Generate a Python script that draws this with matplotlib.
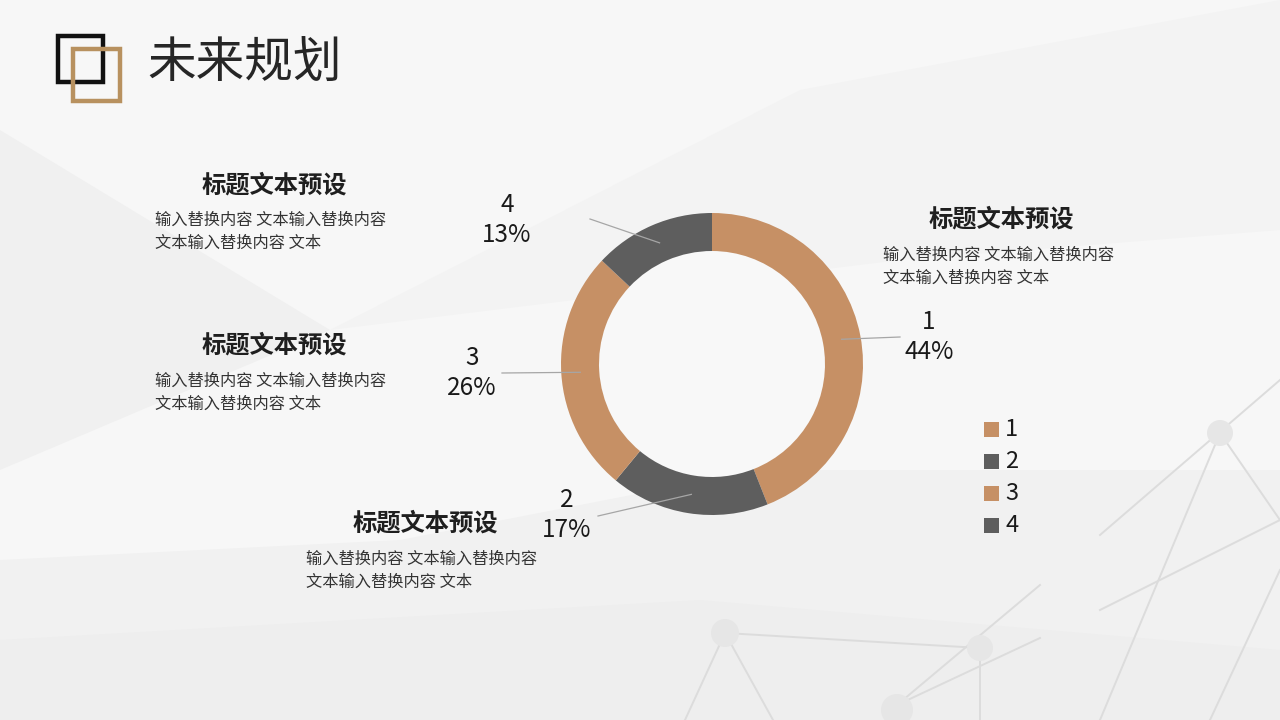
import matplotlib
matplotlib.use("Agg")
import matplotlib.pyplot as plt
from matplotlib.patches import Rectangle, Polygon, Circle
import numpy as np

plt.rcParams['font.family'] = ['Noto Sans CJK SC', 'DejaVu Sans']

# ---- data ----
title = "未来规划"
categories = ["1", "2", "3", "4"]
values = [44, 17, 26, 13]
colors = ["#C69065", "#5E5E5E", "#C69065", "#5E5E5E"]
heading = "标题文本预设"
body_lines = ["输入替换内容 文本输入替换内容", "文本输入替换内容 文本"]

W, H = 1280, 720
fig = plt.figure(figsize=(12.8, 7.2), dpi=100)
ax = fig.add_axes([0, 0, 1, 1])
ax.set_xlim(0, W)
ax.set_ylim(0, H)
ax.set_aspect('equal')
ax.axis('off')

def Y(y):
    return H - y

# ---- background ----
ax.add_patch(Rectangle((0, 0), W, H, color="#F7F7F7", zorder=0))
bg_polys = [
    ([(0, 130), (330, 330), (0, 470)], "#F0F0F0"),
    ([(330, 330), (800, 90), (1280, 0), (1280, 230), (900, 260)], "#F3F3F3"),
    ([(0, 560), (400, 540), (760, 470), (1280, 470), (1280, 720), (0, 720)], "#F1F1F1"),
    ([(0, 640), (700, 600), (1280, 650), (1280, 720), (0, 720)], "#EEEEEE"),
]
for pts, c in bg_polys:
    ax.add_patch(Polygon([(x, Y(y)) for x, y in pts], closed=True, color=c, lw=0, zorder=0.1))

net_lines = [
    ((1100, 535), (1280, 380)),
    ((1220, 433), (1100, 720)),
    ((1220, 433), (1280, 520)),
    ((1100, 610), (1280, 520)),
    ((1210, 720), (1280, 570)),
    ((725, 633), (685, 720)),
    ((725, 633), (773, 720)),
    ((725, 633), (980, 648)),
    ((897, 705), (1040, 585)),
    ((897, 705), (1040, 638)),
    ((980, 648), (980, 720)),
]
for (x1, y1), (x2, y2) in net_lines:
    ax.plot([x1, x2], [Y(y1), Y(y2)], color="#DCDCDC", lw=1.4, zorder=0.3)
for (cx, cy, r) in [(1220, 433, 13), (725, 633, 14), (980, 648, 13), (897, 710, 16)]:
    ax.add_patch(Circle((cx, Y(cy)), r, color="#E6E6E6", lw=0, zorder=0.35))

# ---- title icon ----
ax.add_patch(Rectangle((58, Y(82)), 45, 46, fill=False, ec="#111111", lw=3.2, zorder=2))
ax.add_patch(Rectangle((73, Y(101)), 47, 52, fill=False, ec="#B8915F", lw=3.2, zorder=3))
ax.text(147, Y(64), title, fontsize=35, color="#262626", ha="left", va="center", zorder=4)

# ---- donut ----
cx, cy, R = 712, Y(364), 151
ax.add_patch(Circle((cx, cy), R - 38, color="#F8F8F8", lw=0, zorder=1.5))
wedges, _ = ax.pie(values, colors=colors, startangle=90, counterclock=False,
                   center=(cx, cy), radius=R, wedgeprops=dict(width=38, linewidth=0),
                   frame=False)
for w in wedges:
    w.set_zorder(2)
ax.set_xlim(0, W)
ax.set_ylim(0, H)
ax.axis('off')

total = sum(values)
label_pos = [(929, 337), (567, 515), (472, 373), (507, 220)]
line_end = [(900, 337), (598, 516), (502, 373), (590, 219)]
cum = 0
for i, v in enumerate(values):
    mid = 90 - 360 * (cum + v / 2) / total
    cum += v
    rr = R - 19
    px = cx + rr * np.cos(np.radians(mid))
    py = cy + rr * np.sin(np.radians(mid))
    ex, ey = line_end[i]
    ax.plot([px, ex], [py, Y(ey)], color="#A6A6A6", lw=0.9, zorder=3)
    lx, ly = label_pos[i]
    ax.text(lx, Y(ly), f"{categories[i]}\n{round(100 * v / total)}%", fontsize=17.5,
            color="#1A1A1A", ha="center", va="center", linespacing=1.2, zorder=4)

# ---- legend ----
for i, c in enumerate(categories):
    yy = 429 + 32 * i
    ax.add_patch(Rectangle((984, Y(yy) - 7.5), 15, 15, color=colors[i], lw=0, zorder=4))
    ax.text(1005, Y(yy), c, fontsize=17, color="#1A1A1A", ha="left", va="center", zorder=4)

# ---- text blocks ----
blocks = [(274, 186, 155, 220), (274, 346, 155, 381), (425, 524, 306, 559), (1001, 220, 883, 255)]
for hx, hy, bx, by in blocks:
    ax.text(hx, Y(hy), heading, fontsize=17.5, fontweight="bold", color="#1F1F1F",
            ha="center", va="center", zorder=4)
    for j, line in enumerate(body_lines):
        ax.text(bx, Y(by + 23 * j), line, fontsize=11.7, color="#333333",
                ha="left", va="center", zorder=4)

fig.savefig("out.png", dpi=100)
